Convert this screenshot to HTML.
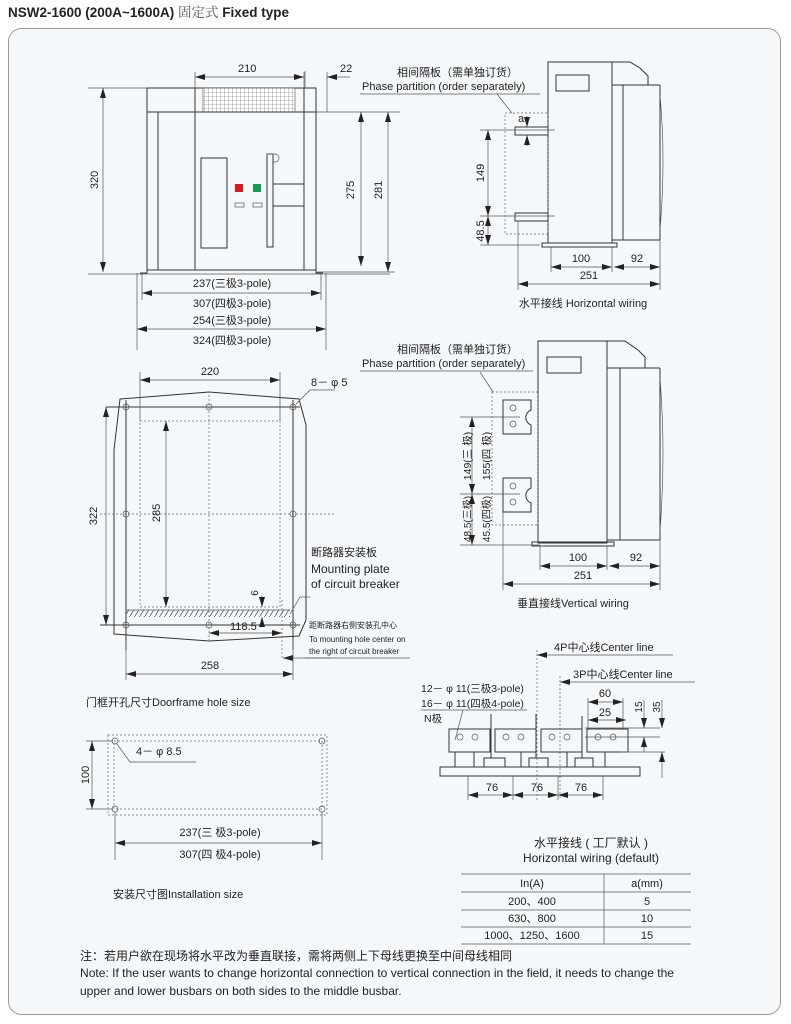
<!DOCTYPE html>
<html><head><meta charset="utf-8"><style>
body{margin:0;background:#fff;width:791px;height:1024px;overflow:hidden}
svg{display:block}
text{font-family:"Liberation Sans","Noto Sans CJK SC",sans-serif;fill:#222;font-size:11px}
.l{stroke:#333;stroke-width:1;fill:none}
.t{stroke:#555;stroke-width:.7;fill:none}
.d{stroke:#666;stroke-width:.7;fill:none;stroke-dasharray:2 2}
</style></head><body>
<svg width="791" height="1024" viewBox="0 0 791 1024">
<defs>
<marker id="a" viewBox="0 0 10 6" refX="10" refY="3" markerWidth="10" markerHeight="6" orient="auto-start-reverse" markerUnits="userSpaceOnUse"><path d="M0,0L10,3L0,6z" fill="#222"/></marker>
<pattern id="g" width="4" height="4" patternUnits="userSpaceOnUse"><rect width="4" height="4" fill="#fff"/><path d="M0,0H4M0,0V4" stroke="#666" stroke-width=".6"/></pattern>
<pattern id="h" width="5" height="8" patternUnits="userSpaceOnUse"><path d="M0,8L5,0" stroke="#555" stroke-width=".8"/></pattern>
</defs>
<text x="8" y="17" style="font-size:13.5px;font-weight:bold">NSW2-1600 (200A~1600A) <tspan style="font-weight:normal;font-family:'Noto Serif CJK SC',serif;fill:#555">固定式</tspan> Fixed type</text>
<rect x="8.5" y="28.5" width="772" height="986" rx="13" fill="#f5f8fb" stroke="#999"/>

<g>
<rect class="l" x="147" y="88" width="169" height="182" fill="#fafcfd"/>
<rect x="203" y="88" width="92" height="24" fill="url(#g)" stroke="#555" stroke-width=".6"/>
<path class="l" d="M147,112H316M158,112V270M195,88V270M304,88V270M140,273H147V270M316,270V273H323"/>
<rect class="l" x="201" y="158" width="26" height="90"/>
<rect x="235" y="184" width="8" height="8" fill="#e0141b"/>
<rect x="253" y="184" width="8" height="8" fill="#11a050"/>
<rect class="t" x="235" y="203" width="9" height="4"/><rect class="t" x="253" y="203" width="9" height="4"/>
<rect class="l" x="267" y="154" width="6" height="93"/>
<path class="t" d="M267,154h8a4,4 0 0 1 0,8h-2"/>
<rect class="l" x="273" y="184" width="31" height="22" fill="#fff"/>
<path class="t" d="M195,72V88M304,72V88M305,71V88M327,72V112M88,88H147M88,274H390M316,112H400M316,272H395"/>
<line class="t" x1="195" y1="77" x2="304" y2="77" marker-start="url(#a)" marker-end="url(#a)"/>
<line class="t" x1="350" y1="77" x2="327" y2="77" marker-end="url(#a)"/>
<text x="238" y="72">210</text><text x="340" y="72">22</text>
<line class="t" x1="103" y1="88" x2="103" y2="272" marker-start="url(#a)" marker-end="url(#a)"/>
<text transform="translate(98,180) rotate(-90)" text-anchor="middle">320</text>
<line class="t" x1="361" y1="112" x2="361" y2="266" marker-start="url(#a)" marker-end="url(#a)"/>
<text transform="translate(354,190) rotate(-90)" text-anchor="middle">275</text>
<line class="t" x1="388" y1="112" x2="388" y2="272" marker-start="url(#a)" marker-end="url(#a)"/>
<text transform="translate(382,190) rotate(-90)" text-anchor="middle">281</text>
<path class="t" d="M142,273V300M321,273V300M137,273V350M326,273V350"/>
<text x="232" y="287" text-anchor="middle">237(三极3-pole)</text>
<line class="t" x1="142" y1="293" x2="321" y2="293" marker-start="url(#a)" marker-end="url(#a)"/>
<text x="232" y="307" text-anchor="middle">307(四极3-pole)</text>
<text x="232" y="324" text-anchor="middle">254(三极3-pole)</text>
<line class="t" x1="137" y1="329" x2="326" y2="329" marker-start="url(#a)" marker-end="url(#a)"/>
<text x="232" y="344" text-anchor="middle">324(四极3-pole)</text>
</g>

<g>
<text x="397" y="76">相间隔板（需单独订货）</text>
<text x="362" y="90">Phase partition (order separately)</text>
<path class="t" d="M360,94H540M497,94L512,113"/>
<rect class="l" x="548" y="62" width="64" height="181" fill="#fafcfd"/>
<rect class="l" x="556" y="75" width="33" height="16"/>
<path class="l" d="M612,62H630L640,68L648,76L648,85H612M623,85V240M660,85V240M623,85H660M612,240H660"/>
<path class="t" d="M660,95Q666,160 660,230"/>
<rect class="l" x="542" y="243" width="75" height="4"/>
<rect class="d" x="505" y="113" width="43" height="121"/>
<rect class="l" x="515" y="127" width="33" height="8"/><rect class="l" x="515" y="213" width="33" height="8"/>
<path class="t" d="M480,130H555M480,216H555M480,245H540"/>
<text x="518" y="122">a</text>
<line class="t" x1="527" y1="116" x2="527" y2="127" marker-end="url(#a)"/><line class="t" x1="527" y1="146" x2="527" y2="135" marker-end="url(#a)"/>
<line class="t" x1="488" y1="130" x2="488" y2="216" marker-start="url(#a)" marker-end="url(#a)"/>
<text transform="translate(484,173) rotate(-90)" text-anchor="middle">149</text>
<line class="t" x1="488" y1="216" x2="488" y2="245" marker-start="url(#a)" marker-end="url(#a)"/>
<text transform="translate(484,231) rotate(-90)" text-anchor="middle">48.5</text>
<path class="t" d="M551,247V272M612,247V272M660,240V290M518,221V290"/>
<line class="t" x1="551" y1="267" x2="612" y2="267" marker-start="url(#a)" marker-end="url(#a)"/>
<line class="t" x1="614" y1="267" x2="660" y2="267" marker-start="url(#a)" marker-end="url(#a)"/>
<line class="t" x1="518" y1="284" x2="660" y2="284" marker-start="url(#a)" marker-end="url(#a)"/>
<text x="581" y="262" text-anchor="middle">100</text><text x="637" y="262" text-anchor="middle">92</text><text x="589" y="279" text-anchor="middle">251</text>
<text x="583" y="307" text-anchor="middle">水平接线 Horizontal wiring</text>
</g>

<g>
<text x="397" y="353">相间隔板（需单独订货）</text>
<text x="362" y="367">Phase partition (order separately)</text>
<path class="t" d="M360,371H533M480,372L493,392"/>
<rect class="l" x="538" y="341" width="69" height="202" fill="#fafcfd"/>
<rect class="l" x="547" y="357" width="34" height="16"/>
<path class="l" d="M607,341H625L638,350L645,357L645,368H607M620,368V540M660,368V540M620,368H660M607,540H660"/>
<path class="t" d="M660,378Q666,455 660,530"/>
<rect class="l" x="532" y="542" width="82" height="4"/>
<rect class="d" x="492" y="392" width="46" height="133"/>
<path class="l" d="M503,400H531V410A8,8 0 0 0 531,425V434H503ZM503,478H531V488A8,8 0 0 0 531,503V512H503Z"/>
<g class="t"><circle cx="513" cy="408" r="3"/><circle cx="513" cy="424" r="3"/><circle cx="513" cy="486" r="3"/><circle cx="513" cy="502" r="3"/></g>
<path class="t" d="M460,417H520M460,494H520M460,545H540"/>
<line class="t" x1="472" y1="417" x2="472" y2="494" marker-start="url(#a)" marker-end="url(#a)"/>
<line class="t" x1="472" y1="494" x2="472" y2="545" marker-start="url(#a)" marker-end="url(#a)"/>
<text transform="translate(471,456) rotate(-90)" text-anchor="middle" style="font-size:10.5px">149(三 极)</text>
<text x="0" y="0" transform="translate(490,456) rotate(-90)" text-anchor="middle" style="font-size:10.5px">155(四 极)</text>
<text transform="translate(471,519) rotate(-90)" text-anchor="middle" style="font-size:10px">48.5(三极)</text>
<text transform="translate(490,519) rotate(-90)" text-anchor="middle" style="font-size:10px">45.5(四极)</text>
<path class="t" d="M540,546V570M607,546V570M660,540V590M503,512V590"/>
<line class="t" x1="540" y1="566" x2="607" y2="566" marker-start="url(#a)" marker-end="url(#a)"/>
<line class="t" x1="609" y1="566" x2="660" y2="566" marker-start="url(#a)" marker-end="url(#a)"/>
<line class="t" x1="503" y1="584" x2="660" y2="584" marker-start="url(#a)" marker-end="url(#a)"/>
<text x="578" y="561" text-anchor="middle">100</text><text x="636" y="561" text-anchor="middle">92</text><text x="583" y="579" text-anchor="middle">251</text>
<text x="573" y="607" text-anchor="middle">垂直接线Vertical wiring</text>
</g>

<g>
<path class="l" d="M120,399L209,392L299,399L306,425V620L299,636L209,641L114,634V450Z" fill="#fafcfd"/>
<path class="l" d="M106,407H300M100,625H300M126,400V650M293,400V650"/>
<rect class="d" x="140" y="421" width="140" height="186"/>
<path class="d" d="M209,395V640M100,514H335M282,600V660"/>
<rect x="126" y="610" width="164" height="7" fill="url(#h)"/>
<path class="t" d="M126,610H290"/>
<g class="t"><circle cx="126" cy="407" r="3"/><circle cx="209" cy="407" r="3"/><circle cx="293" cy="407" r="3"/><circle cx="126" cy="514" r="3"/><circle cx="293" cy="514" r="3"/><circle cx="126" cy="625" r="3"/><circle cx="209" cy="625" r="3"/><circle cx="293" cy="625" r="3"/></g>
<path class="t" d="M140,372V421M280,372V421"/>
<line class="t" x1="140" y1="380" x2="280" y2="380" marker-start="url(#a)" marker-end="url(#a)"/>
<text x="210" y="375" text-anchor="middle">220</text>
<text x="311" y="386">8－ φ 5</text>
<path class="t" d="M335,390H310L296,404"/>
<line class="t" x1="106" y1="407" x2="106" y2="625" marker-start="url(#a)" marker-end="url(#a)"/>
<text transform="translate(97,516) rotate(-90)" text-anchor="middle">322</text>
<line class="t" x1="166" y1="421" x2="166" y2="607" marker-start="url(#a)" marker-end="url(#a)"/>
<text transform="translate(160,513) rotate(-90)" text-anchor="middle">285</text>
<line class="t" x1="262" y1="596" x2="262" y2="607" marker-end="url(#a)"/><line class="t" x1="262" y1="625" x2="262" y2="617" marker-end="url(#a)"/>
<text transform="translate(258,593) rotate(-90)" text-anchor="middle" style="font-size:10px">6</text>
<line class="t" x1="209" y1="633" x2="282" y2="633" marker-start="url(#a)" marker-end="url(#a)"/>
<text x="230" y="630">118.5</text>
<text x="311" y="556">断路器安装板</text>
<text x="311" y="573" style="font-size:12px">Mounting plate</text>
<text x="311" y="588" style="font-size:12px">of circuit breaker</text>
<path class="t" d="M290,614L300,597H310"/>
<text x="309" y="628" style="font-size:8px">距断路器右侧安装孔中心</text>
<text x="309" y="642" style="font-size:8px">To mounting hole center on</text>
<text x="309" y="654" style="font-size:8px">the right of circuit breaker</text>
<path class="t" d="M305,658H410"/><line class="t" x1="330" y1="658" x2="283" y2="658" marker-end="url(#a)"/>
<path class="t" d="M126,640V680M293,640V680"/>
<line class="t" x1="126" y1="674" x2="293" y2="674" marker-start="url(#a)" marker-end="url(#a)"/>
<text x="210" y="669" text-anchor="middle">258</text>
<text x="86" y="706">门框开孔尺寸Doorframe hole size</text>
</g>

<g>
<rect class="d" x="108" y="735" width="219" height="80" fill="#fafcfd"/>
<rect class="d" x="114" y="741" width="208" height="68"/>
<g class="t"><circle cx="115" cy="741" r="3"/><circle cx="322" cy="741" r="3"/><circle cx="115" cy="809" r="3"/><circle cx="322" cy="809" r="3"/></g>
<text x="136" y="755">4－ φ 8.5</text>
<path class="t" d="M117,744L130,762H196M86,741H113M86,809H113M115,812V860M322,812V860"/>
<line class="t" x1="92" y1="741" x2="92" y2="809" marker-start="url(#a)" marker-end="url(#a)"/>
<text transform="translate(89,775) rotate(-90)" text-anchor="middle">100</text>
<text x="220" y="836" text-anchor="middle">237(三 极3-pole)</text>
<line class="t" x1="115" y1="843" x2="322" y2="843" marker-start="url(#a)" marker-end="url(#a)"/>
<text x="220" y="858" text-anchor="middle">307(四 极4-pole)</text>
<text x="113" y="898">安装尺寸图Installation size</text>
</g>

<g>
<text x="554" y="651">4P中心线Center line</text>
<line class="t" x1="673" y1="655" x2="537" y2="655" marker-end="url(#a)"/>
<text x="573" y="678">3P中心线Center line</text>
<line class="t" x1="695" y1="682" x2="560" y2="682" marker-end="url(#a)"/>
<path class="d" d="M537,650V800M560,676V800"/>
<text x="421" y="692" style="font-size:10.5px">12－ φ 11(三极3-pole)</text>
<text x="421" y="707" style="font-size:10.5px">16－ φ 11(四极4-pole)</text>
<text x="424" y="722" style="font-size:10.5px">N极</text>
<path class="t" d="M421,710H527M463,710L455,740"/>
<g class="l">
<path d="M449,729H490V752H449V736Z"/><path d="M495,729H536V752H495Z"/><path d="M541,729H582V752H541Z"/><path d="M587,729H628V752H587Z"/>
<path d="M440,767H640V776H440ZM455,752V767M474,752V767M521,752V767M567,752V767M605,752V767"/>
<path d="M484,758H505V767H484ZM529,758H548V767H529ZM575,758H593V767H575Z"/>
<path d="M491,714V758M536,714V758M582,716V758"/>
</g>
<g class="t"><circle cx="460" cy="737" r="3"/><circle cx="475" cy="737" r="3"/><circle cx="506" cy="737" r="3"/><circle cx="521" cy="737" r="3"/><circle cx="552" cy="737" r="3"/><circle cx="567" cy="737" r="3"/><circle cx="598" cy="737" r="3"/><circle cx="613" cy="737" r="3"/></g>
<path class="t" d="M588,698V730M623,698V730M585,728H660M585,737H660M620,752H665"/>
<line class="t" x1="588" y1="702" x2="623" y2="702" marker-start="url(#a)" marker-end="url(#a)"/>
<text x="605" y="697" text-anchor="middle">60</text>
<line class="t" x1="588" y1="720" x2="626" y2="720" marker-start="url(#a)" marker-end="url(#a)"/>
<text x="605" y="716" text-anchor="middle">25</text>
<line class="t" x1="644" y1="700" x2="644" y2="728" marker-end="url(#a)"/>
<line class="t" x1="644" y1="752" x2="644" y2="737" marker-end="url(#a)"/>
<text transform="translate(642,707) rotate(-90)" text-anchor="middle" style="font-size:10px">15</text>
<line class="t" x1="662" y1="700" x2="662" y2="728" marker-end="url(#a)"/>
<line class="t" x1="662" y1="778" x2="662" y2="752" marker-end="url(#a)"/>
<text transform="translate(660,707) rotate(-90)" text-anchor="middle" style="font-size:10px">35</text>
<path class="t" d="M468,776V800M513,776V800M558,776V800M603,776V800"/>
<line class="t" x1="468" y1="795" x2="513" y2="795" marker-start="url(#a)" marker-end="url(#a)"/>
<line class="t" x1="513" y1="795" x2="558" y2="795" marker-start="url(#a)" marker-end="url(#a)"/>
<line class="t" x1="558" y1="795" x2="603" y2="795" marker-start="url(#a)" marker-end="url(#a)"/>
<text x="492" y="791" text-anchor="middle">76</text><text x="537" y="791" text-anchor="middle">76</text><text x="581" y="791" text-anchor="middle">76</text>
</g>

<g>
<text x="591" y="847" text-anchor="middle" style="font-size:12px">水平接线 ( 工厂默认 )</text>
<text x="591" y="862" text-anchor="middle" style="font-size:12px">Horizontal wiring (default)</text>
<path class="t" d="M461,874H691M461,892H691M461,910H691M461,927H691M461,944H691M604,874V944"/>
<text x="532" y="887" text-anchor="middle">In(A)</text><text x="647" y="887" text-anchor="middle">a(mm)</text>
<text x="532" y="905" text-anchor="middle">200、400</text><text x="647" y="905" text-anchor="middle">5</text>
<text x="532" y="922" text-anchor="middle">630、800</text><text x="647" y="922" text-anchor="middle">10</text>
<text x="532" y="939" text-anchor="middle">1000、1250、1600</text><text x="647" y="939" text-anchor="middle">15</text>
</g>
<text x="80" y="960" style="font-size:12px">注：若用户欲在现场将水平改为垂直联接，需将两侧上下母线更换至中间母线相同</text>
<text x="80" y="977" style="font-size:12px" textLength="594" lengthAdjust="spacingAndGlyphs">Note: If the user wants to change horizontal connection to vertical connection in the field, it needs to change the</text>
<text x="80" y="995" style="font-size:12px">upper and lower busbars on both sides to the middle busbar.</text>
</svg>
</body></html>
